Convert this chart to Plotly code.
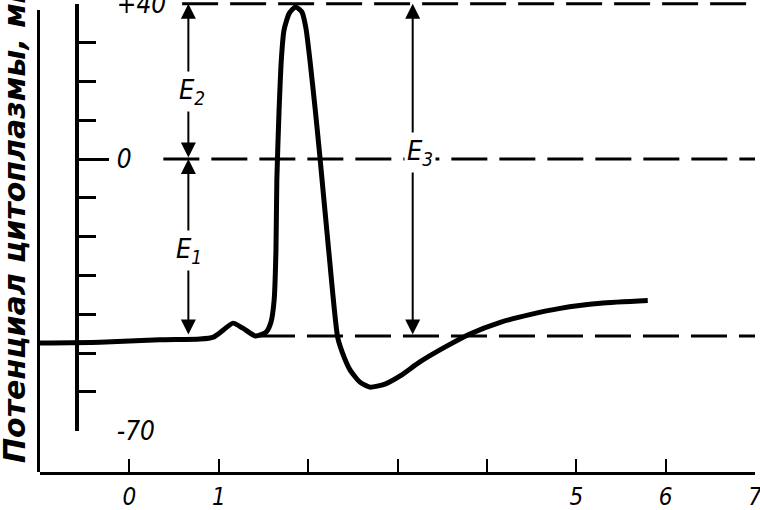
import plotly.graph_objects as go

# ---- data ----
time_ms = [-1.00, -0.33, 0.34, 0.79, 0.94, 1.05, 1.16, 1.27, 1.41, 1.53,
           1.585, 1.62, 1.64, 1.65, 1.675, 1.70, 1.73, 1.79, 1.86, 1.93,
           1.975, 2.02, 2.08, 2.13, 2.23, 2.33, 2.38, 2.47, 2.58, 2.69,
           2.86, 3.03, 3.25, 3.53, 3.81, 4.15, 4.48, 4.82, 5.27, 5.80]
potential_mv = [-47.4, -47.2, -46.6, -46.4, -45.9, -44.1, -42.3, -43.6, -45.6, -44.6,
                -42.0, -36.3, -23.5, -5.4, 12.6, 25.5, 33.2, 37.6, 39.2, 37.9,
                33.8, 25.5, 12.6, 1.0, -23.5, -45.9, -49.7, -54.4, -57.5, -58.8,
                -58.0, -55.9, -52.3, -48.5, -45.1, -42.1, -40.1, -38.5, -37.2, -36.5]

ref_levels = [40, 0, -45.6]          # dashed reference lines, mV
ref_starts = [0.59, 0.38, 1.45]      # where each dashed line begins, ms
x_end = 7.0

e_names = ["E<sub>2</sub>", "E<sub>1</sub>", "E<sub>3</sub>"]
e_x = [0.66, 0.66, 3.17]
e_top = [40, 0, 40]
e_bottom = [0, -45.6, -45.6]
e_label_x = [0.70, 0.667, 3.25]
e_label_y = [17.5, -23.7, 1.8]

x_tickvals = [0, 1, 2, 3, 4, 5, 6, 7]
x_ticktext = ["0", "1", "", "", "", "5", "6", "7"]
y_tickvals = [40, 0, -70]
y_ticktext = ["+40", "0", "-70"]
y_title = "Потенциал цитоплазмы, мВ"

# ---- figure ----
FONT = "DejaVu Sans Condensed, DejaVu Sans, sans-serif"
y_lo, y_hi = -80.67, 40.98
x_lo = -1.0

fig = go.Figure()

for lvl, xs in zip(ref_levels, ref_starts):
    fig.add_trace(go.Scatter(
        x=[xs, x_end], y=[lvl, lvl], mode="lines",
        line=dict(color="black", width=3, dash="36px,12px"),
        hoverinfo="skip", showlegend=False, cliponaxis=False))

fig.add_trace(go.Scatter(
    x=time_ms, y=potential_mv, mode="lines",
    line=dict(color="black", width=5, shape="spline", smoothing=0.6),
    showlegend=False, cliponaxis=False))

# dummy traces so the extra axes are drawn
fig.add_trace(go.Scatter(x=[None], y=[None], yaxis="y2", showlegend=False, hoverinfo="skip"))
fig.add_trace(go.Scatter(x=[None], y=[None], yaxis="y3", showlegend=False, hoverinfo="skip"))

inner_dom = [(-70 - y_lo) / (y_hi - y_lo), (40 - y_lo) / (y_hi - y_lo)]
plot_w = 760 - 40 - 5
plot_h = 510 - 38

annotations = []
for i in range(3):
    annotations.append(dict(
        x=e_x[i], y=e_top[i], ax=e_x[i], ay=e_bottom[i],
        xref="x", yref="y", axref="x", ayref="y", text="",
        showarrow=True, arrowhead=2, arrowside="end+start",
        arrowsize=1.5, arrowwidth=2, arrowcolor="black",
        standoff=0, startstandoff=0))
for i in range(3):
    annotations.append(dict(
        x=e_label_x[i], y=e_label_y[i], xref="x", yref="y",
        text=e_names[i], showarrow=False, bgcolor="white", borderpad=2,
        font=dict(family=FONT, size=27, style="italic", color="black")))
annotations.append(dict(
    xref="paper", yref="paper", x=(15 - 40) / plot_w, y=(472 - 222) / plot_h,
    text=y_title, textangle=-90, showarrow=False,
    xanchor="center", yanchor="middle",
    font=dict(family="DejaVu Sans, sans-serif", size=30, weight="bold",
              style="italic", color="black")))

fig.update_layout(
    template="none",
    width=760, height=510,
    margin=dict(l=40, r=5, t=0, b=38, pad=0, autoexpand=False),
    paper_bgcolor="white", plot_bgcolor="rgba(0,0,0,0)",
    showlegend=False,
    xaxis=dict(range=[x_lo, x_end], domain=[0, 1], anchor="y", automargin=False,
               showline=True, linecolor="black", linewidth=3,
               ticks="inside", ticklen=13, tickwidth=2, tickcolor="black",
               tickmode="array", tickvals=x_tickvals, ticktext=x_ticktext,
               ticklabelstandoff=1, ticklabeloverflow="allow",
               tickfont=dict(family=FONT, size=24, style="italic", color="black"),
               showgrid=False, zeroline=False, fixedrange=True),
    yaxis=dict(range=[y_lo, y_hi], domain=[0, 1], visible=False, automargin=False,
               showgrid=False, zeroline=False, fixedrange=True),
    yaxis2=dict(range=[-70, 40], domain=inner_dom, anchor="free", automargin=False,
                position=(77 - 40) / plot_w, side="left",
                showline=True, linecolor="black", linewidth=4,
                ticks="inside", ticklen=30, tickwidth=3, tickcolor="black",
                tickmode="array", tickvals=y_tickvals, ticktext=y_ticktext,
                ticklabelposition="inside", ticklabelstandoff=10,
                ticklabeloverflow="allow",
                tickfont=dict(family=FONT, size=26, style="italic", color="black"),
                minor=dict(tickmode="linear", tick0=0, dtick=10, ticks="inside",
                           ticklen=17, tickwidth=3, tickcolor="black"),
                showgrid=False, zeroline=False, fixedrange=True),
    yaxis3=dict(range=[0, 1], domain=[0, (472 - 10) / plot_h], anchor="x",
                automargin=False,
                side="left", showline=True, linecolor="black", linewidth=3,
                ticks="", showticklabels=False,
                showgrid=False, zeroline=False, fixedrange=True),
    annotations=annotations,
)

fig.write_html("out.html", post_script="document.body.style.margin='0px';",
               config={"displayModeBar": False})
